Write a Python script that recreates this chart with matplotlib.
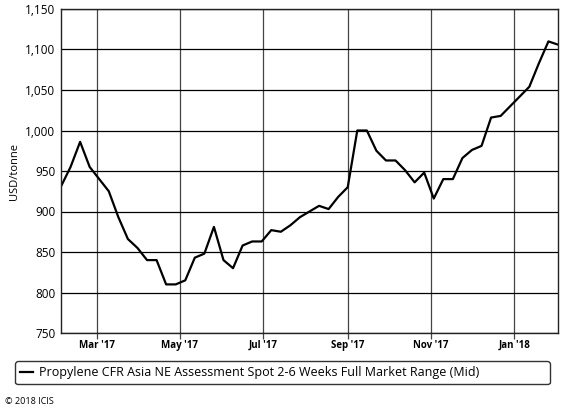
import matplotlib.pyplot as plt
import matplotlib.dates as mdates
import pandas as pd

# weekly assessments, USD/tonne
dates = pd.date_range('2017-02-03', periods=53, freq='7D')
prices = [931, 955, 986, 955, 940, 925, 893, 866, 855, 840,
          840, 810, 810, 815, 843, 848, 881, 840, 830, 858,
          863, 863, 877, 875, 883, 893, 900, 907, 903, 918,
          930, 1000, 1000, 975, 963, 963, 951, 936, 948, 916,
          940, 940, 966, 976, 981, 1016, 1018, 1030, 1042, 1054,
          1083, 1110, 1106]
series_name = 'Propylene CFR Asia NE Assessment Spot 2-6 Weeks Full Market Range (Mid)'

plt.rcParams['font.family'] = ['Open Sans', 'DejaVu Sans']

fig = plt.figure(figsize=(5.76, 4.12), dpi=100)
ax = fig.add_axes([61/576, 1 - 333/412, 497/576, 324/412])

ax.plot(dates, prices, color='black', lw=1.6, label=series_name)

ax.set_xlim(dates[0], dates[-1])
ax.set_ylim(750, 1150)
ax.set_yticks(range(750, 1151, 50))
ax.yaxis.set_major_formatter(plt.FuncFormatter(lambda v, p: f'{int(v):,}'))

ax.xaxis.set_major_locator(mdates.MonthLocator(bymonth=[1, 3, 5, 7, 9, 11]))
ax.xaxis.set_major_formatter(mdates.DateFormatter("%b '%y"))

ax.grid(axis='y', color='black', lw=0.9)
ax.grid(axis='x', color='#444444', lw=0.9)
ax.set_axisbelow(True)
for s in ax.spines.values():
    s.set_color('#222222')
    s.set_linewidth(1.0)

ax.tick_params(axis='y', length=0, labelsize=8.5, pad=4)
ax.tick_params(axis='x', length=4, width=0.9, color='#444444', labelsize=7, pad=1)
for lbl in ax.get_xticklabels():
    lbl.set_fontweight('bold')

ax.set_ylabel('USD/tonne', fontsize=8, labelpad=4)

leg = fig.legend(loc='upper left', bbox_to_anchor=(9/576, 1 - 381/412, 547/576, 26/412),
                 mode='expand', fontsize=9, handlelength=1.0, handletextpad=0.5,
                 fancybox=True, edgecolor='#333333', framealpha=1, borderpad=0.4)

fig.text(5/576, 1 - 401/412, '\u00a9 2018 ICIS', fontsize=6.5, va='center')

fig.savefig('out.png', dpi=100)
